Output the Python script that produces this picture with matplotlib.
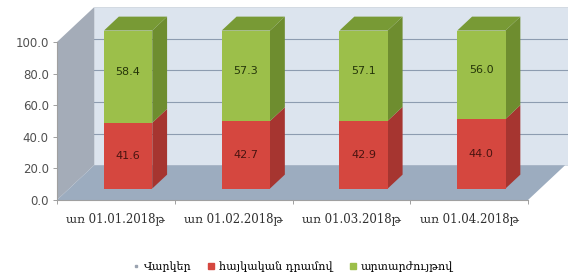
import matplotlib
matplotlib.use('Agg')
import matplotlib.pyplot as plt
from matplotlib.patches import Polygon
from matplotlib.lines import Line2D

categories = ['առ 01.01.2018թ', 'առ 01.02.2018թ', 'առ 01.03.2018թ', 'առ 01.04.2018թ']
amd_share = [41.6, 42.7, 42.9, 44.0]
fx_share = [58.4, 57.3, 57.1, 56.0]
legend_labels = ['Վարկեր', 'հայկական դրամով', 'արտարժույթով']

# colours
wall_c = '#dce4ee'
side_c = '#a4acb8'
floor_c = '#9cacbf'
grid_c = '#8d9cb0'
red = ('#d5473f', '#a63530', '#b83c36')     # front, side, top
green = ('#9cbf4a', '#6e8d2f', '#789a35')

serif = ['DejaVu Serif', 'DejaVu Sans']

fig = plt.figure(figsize=(5.68, 2.75), dpi=100)
ax = fig.add_axes([57 / 568, 75 / 275, 471 / 568, 158 / 275])
ax.set_xlim(-0.5, 3.5)
ax.set_ylim(0, 100)

# depth vector (category units, value units) for z = 1
ddx, ddy = 0.315, 22.0


def proj(x, y, z):
    return (x + ddx * z, y + ddy * z)


def poly(pts, color, zo, ec='none'):
    ax.add_patch(Polygon(pts, closed=True, facecolor=color, edgecolor=ec,
                         lw=0.5, zorder=zo, clip_on=False))


x0, x1 = -0.5, 3.5
xr = 4.2  # back wall runs off the right edge

# back wall
poly([proj(x0, 0, 1), proj(xr, 0, 1), proj(xr, 100, 1), proj(x0, 100, 1)], wall_c, 1, ec='#c8d0da')
for v in range(20, 100, 20):
    a = proj(x0, v, 1)
    b = proj(xr, v, 1)
    ax.plot([a[0], b[0]], [a[1], b[1]], color=grid_c, lw=0.8, zorder=2, clip_on=False)
# side wall
poly([proj(x0, 0, 0), proj(x0, 100, 0), proj(x0, 100, 1), proj(x0, 0, 1)], side_c, 3)
# floor
poly([proj(x0, 0, 0), proj(x1, 0, 0), proj(x1, 0, 1), proj(x0, 0, 1)], floor_c, 3)

# bars
bw = 0.41
z0, z1 = 0.33, 0.73
for i in range(len(categories)):
    xl = i - bw / 2
    xrr = i + bw / 2
    segs = [(0, amd_share[i], red), (amd_share[i], amd_share[i] + fx_share[i], green)]
    for k, (lo, hi, col) in enumerate(segs):
        zo = 5 + k * 2
        # side face
        poly([proj(xrr, lo, z0), proj(xrr, hi, z0), proj(xrr, hi, z1), proj(xrr, lo, z1)], col[1], zo)
        # front face
        poly([proj(xl, lo, z0), proj(xrr, lo, z0), proj(xrr, hi, z0), proj(xl, hi, z0)], col[0], zo + 1)
    top = amd_share[i] + fx_share[i]
    poly([proj(xl, top, z0), proj(xrr, top, z0), proj(xrr, top, z1), proj(xl, top, z1)], green[2], 10)
    cx, _ = proj(i, 0, z0)
    _, ry = proj(0, amd_share[i] / 2, z0)
    _, gy = proj(0, amd_share[i] + fx_share[i] * 0.55, z0)
    ax.text(cx, ry, f'{amd_share[i]:.1f}', ha='center', va='center', fontsize=8,
            color='#4a1410', zorder=12)
    ax.text(cx, gy, f'{fx_share[i]:.1f}', ha='center', va='center', fontsize=8,
            color='#253509', zorder=12)

# axes
for s in ['top', 'right']:
    ax.spines[s].set_visible(False)
ax.spines['left'].set_color('#a0a0a0')
ax.spines['bottom'].set_color('#a0a0a0')
ax.spines['left'].set_zorder(4)
ax.spines['bottom'].set_zorder(4)
ax.set_yticks(range(0, 101, 20))
ax.set_yticklabels([f'{v:.1f}' for v in range(0, 101, 20)])
ax.tick_params(axis='y', labelsize=8.5, colors='#505050', length=3, width=0.6, pad=3)
ax.tick_params(axis='y', color='#909090')
ax.set_xticks(range(len(categories)))
ax.set_xticklabels(categories, family=serif, fontsize=8.5, color='#303030')
ax.tick_params(axis='x', length=0, pad=9)
ax.set_xticks([-0.5, 0.5, 1.5, 2.5, 3.5], minor=True)
ax.tick_params(axis='x', which='minor', length=3, width=0.6, color='#909090')
ax.set_facecolor('none')

handles = [
    Line2D([], [], ls='none', marker='s', markersize=2, color='#9aa3b0'),
    Line2D([], [], ls='none', marker='s', markersize=5, color=red[0]),
    Line2D([], [], ls='none', marker='s', markersize=5, color=green[0]),
]
fig.legend(handles, legend_labels, loc='center', bbox_to_anchor=(0.515, 0.03), ncol=3,
           frameon=False, handlelength=0.6, handletextpad=0.4, columnspacing=1.5,
           prop={'family': serif, 'size': 8})

fig.savefig('out.png', dpi=100)
